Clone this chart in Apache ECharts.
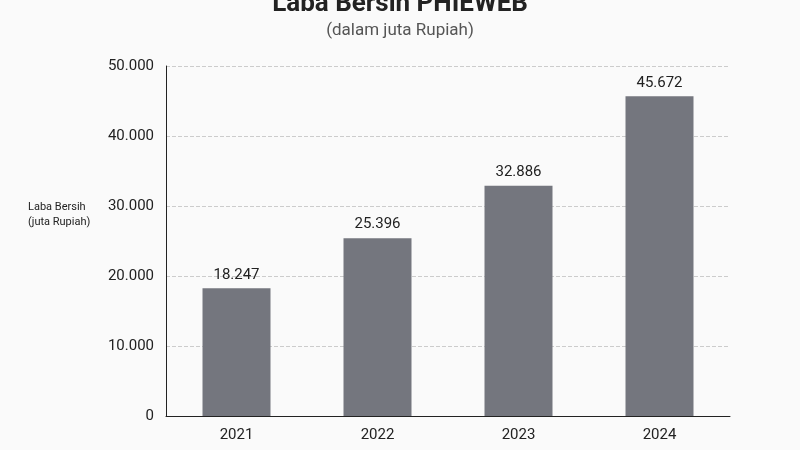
<!DOCTYPE html>
<html><head><meta charset="utf-8">
<script src="https://cdn.jsdelivr.net/npm/echarts@6/dist/echarts.min.js"></script>
<style>html,body{margin:0;background:#fafafa}#c{width:800px;height:450px}</style>
</head><body><div id="c"></div>
<script>
const categories = ['2021','2022','2023','2024'];
const values = [18247, 25396, 32886, 45672];
const fmt = v => v === 0 ? '0' : v.toLocaleString('de-DE');
const chart = echarts.init(document.getElementById('c'));
chart.setOption({
  backgroundColor: '#fafafa',
  textStyle: { fontFamily: 'Roboto' },
  title: [
    { text: 'Laba Bersih PHIEWEB', left: 'center', top: -14, textStyle: { fontSize: 26, fontWeight: 'bold', color: '#222' } },
    { text: '(dalam juta Rupiah)', left: 'center', top: 17, textStyle: { fontSize: 17, fontWeight: 'normal', color: '#555' } }
  ],
  grid: { left: 166, right: 70, top: 66, bottom: 34, outerBoundsMode: 'none', containLabel: false },
  xAxis: {
    type: 'category', data: categories,
    name: 'Tahun', nameLocation: 'middle', nameGap: 36,
    nameTextStyle: { fontSize: 14, color: '#222' },
    axisLine: { lineStyle: { color: '#222' } }, axisTick: { show: false },
    axisLabel: { fontSize: 15, color: '#222', margin: 12 }
  },
  yAxis: {
    type: 'value', min: 0, max: 50000, interval: 10000,
    axisLine: { show: true, lineStyle: { color: '#222' } },
    axisLabel: { fontSize: 15, color: '#222', formatter: fmt, margin: 12 },
    splitLine: { lineStyle: { type: 'dashed', color: '#ccc' } }
  },
  graphic: [{ type: 'text', left: 28, top: 200, style: { text: 'Laba Bersih\n(juta Rupiah)', fontSize: 11, fill: '#222', lineHeight: 15, fontFamily: 'Roboto' } }],
  series: [{
    type: 'bar', data: values, barWidth: 68,
    itemStyle: { color: '#74767e' },
    label: { show: true, position: 'top', fontSize: 15, color: '#222', formatter: p => fmt(p.value), distance: 6 }
  }]
});
</script></body></html>
